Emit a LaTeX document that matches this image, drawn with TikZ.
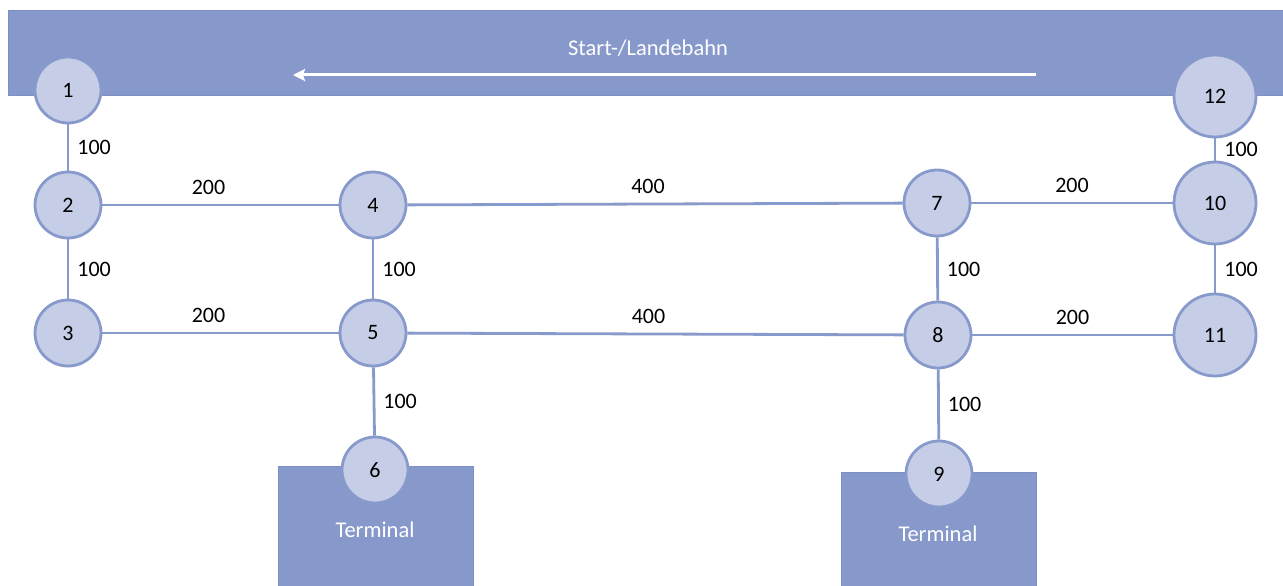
\documentclass[tikz,border=0pt]{standalone}
\usepackage{fontspec}
\setmainfont{Carlito}
\usetikzlibrary{arrows.meta}
\definecolor{rwfill}{HTML}{8799CB}
\definecolor{rwedge}{HTML}{7B8FC8}
\definecolor{cfill}{HTML}{C6CDE7}
\definecolor{cline}{HTML}{8899CC}
\tikzset{
  every node/.style={font=\fontsize{22}{26}\selectfont},
  knot/.style={circle, draw=cline, fill=cfill, line width=2.8pt, minimum size=66pt, inner sep=0pt, text=black},
  bigknot/.style={knot, minimum size=82pt},
  edge/.style={draw=cline, line width=2.8pt},
  hlab/.style={above, inner sep=0pt, yshift=9pt, text=black},
  vlab/.style={right, inner sep=0pt, xshift=8pt, text=black},
  area/.style={fill=rwfill, draw=rwedge, line width=1pt},
  wtext/.style={text=white, font=\fontsize{22.5}{26}\selectfont}
}
\begin{document}
\begin{tikzpicture}[x=1pt, y=-1pt]
\useasboundingbox (0,0) rectangle (1283,586);
% runway
\path[area] (8,11) rectangle (1295,96);
\node[wtext] (rwtext) at (648,48) {Start-/Landebahn};
\coordinate (arrS) at (1036,75);
\coordinate (arrE) at (293,75);
\draw[white, line width=3pt, -{Stealth[length=12pt,width=12pt,inset=2pt]}] (arrS) -- (arrE);
% terminals
\path[area] (278,466) rectangle (473,590);
\path[area] (841,472) rectangle (1036,590);
\node[wtext] (t1) at (375,530) {Terminal};
\node[wtext] (t2) at (938,534) {Terminal};
% nodes
\node[knot] (n1) at (68,90) {1};
\node[knot] (n2) at (68,205) {2};
\node[knot] (n3) at (68,333) {3};
\node[knot] (n4) at (373,205) {4};
\node[knot] (n5) at (373,333) {5};
\node[knot] (n6) at (375,470) {6};
\node[knot] (n7) at (937,203) {7};
\node[knot] (n8) at (938,335) {8};
\node[knot] (n9) at (939,474) {9};
\node[bigknot] (n10) at (1215,203) {10};
\node[bigknot] (n11) at (1215,335) {11};
\node[bigknot] (n12) at (1215,96) {12};
% edges
\path[edge] (n1) -- node[vlab]{100} (n2);
\path[edge] (n2) -- node[vlab]{100} (n3);
\path[edge] (n2) -- node[hlab, xshift=-12pt]{200} (n4);
\path[edge] (n3) -- node[hlab, xshift=-12pt]{200} (n5);
\path[edge] (n4) -- node[vlab]{100} (n5);
\path[edge] (n5) -- node[vlab]{100} (n6);
\path[edge] (n4) -- node[hlab, xshift=-7pt]{400} (n7);
\path[edge] (n5) -- node[hlab, xshift=-7pt]{400} (n8);
\path[edge] (n7) -- node[hlab]{200} (n10);
\path[edge] (n8) -- node[hlab]{200} (n11);
\path[edge] (n7) -- node[vlab]{100} (n8);
\path[edge] (n8) -- node[vlab]{100} (n9);
\path[edge] (n12) -- node[vlab]{100} (n10);
\path[edge] (n10) -- node[vlab]{100} (n11);
\end{tikzpicture}
\end{document}
